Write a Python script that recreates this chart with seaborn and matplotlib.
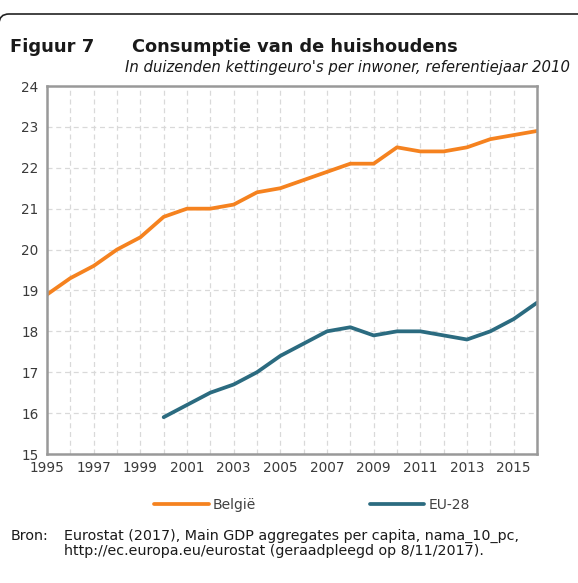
import numpy as np
import matplotlib
matplotlib.use("Agg")
import matplotlib.pyplot as plt
from matplotlib.patches import FancyBboxPatch
from matplotlib.transforms import IdentityTransform
import pandas as pd
import seaborn as sns

# data
years_be = list(range(1995, 2017))
belgie = [18.9, 19.3, 19.6, 20.0, 20.3, 20.8, 21.0, 21.0, 21.1, 21.4, 21.5,
          21.7, 21.9, 22.1, 22.1, 22.5, 22.4, 22.4, 22.5, 22.7, 22.8, 22.9]
years_eu = list(range(2000, 2017))
eu28 = [15.9, 16.2, 16.5, 16.7, 17.0, 17.4, 17.7, 18.0, 18.1, 17.9, 18.0,
        18.0, 17.9, 17.8, 18.0, 18.3, 18.7]
y_ticks = list(range(15, 25))

ORANGE = "#F5821F"
TEAL = "#2B6B80"
GREY = "#999999"

sns.set_style("white")
plt.rcParams['font.family'] = ['DejaVu Sans']

df = pd.concat([
    pd.DataFrame({'jaar': years_be, 'waarde': belgie, 'reeks': 'België'}),
    pd.DataFrame({'jaar': years_eu, 'waarde': eu28, 'reeks': 'EU-28'}),
])

W, H = 578, 583
fig = plt.figure(figsize=(W / 100, H / 100), dpi=100)
ax = fig.add_axes([47 / W, 1 - 454 / H, 490 / W, 368 / H])

sns.lineplot(data=df, x='jaar', y='waarde', hue='reeks',
             palette={'België': ORANGE, 'EU-28': TEAL},
             linewidth=2.7, ax=ax, legend=False)

ax.set_xlim(1995, 2016)
ax.set_ylim(15, 24)
ax.set_xticks(range(1995, 2017))
ax.set_xticklabels([str(y) if (y - 1995) % 2 == 0 else '' for y in range(1995, 2017)])
ax.set_yticks(y_ticks)
ax.set_xlabel('')
ax.set_ylabel('')
ax.grid(True, color='#D9D9D9', linestyle=(0, (4, 3)), linewidth=0.9)
for s in ax.spines.values():
    s.set_color(GREY)
    s.set_linewidth(1.8)
ax.tick_params(axis='both', colors=GREY, length=4, width=1.5, labelcolor='#3a3a3a',
               labelsize=9.8, direction='out')
ax.tick_params(axis='x', pad=1)
ax.tick_params(axis='y', pad=2)

# legend
handles = [plt.Line2D([], [], color=ORANGE, lw=2.7), plt.Line2D([], [], color=TEAL, lw=2.7)]
fig.legend(handles, ['België', 'EU-28'], loc='center', bbox_to_anchor=(312 / W, 1 - 505 / H),
           ncol=2, frameon=False, fontsize=10, handlelength=3.9, handletextpad=0.3,
           columnspacing=8.2, labelcolor='#404040')

# titles
fig.text(10 / W, 1 - 52 / H, 'Figuur 7', fontsize=12.9, fontweight='bold', color='#1a1a1a')
fig.text(132 / W, 1 - 52 / H, 'Consumptie van de huishoudens', fontsize=12.8,
         fontweight='bold', color='#1a1a1a')
fig.text(570 / W, 1 - 72 / H,
         "In duizenden kettingeuro's per inwoner, referentiejaar 2010",
         fontsize=10.7, style='italic', ha='right', color='#1a1a1a')

# source
fig.text(11 / W, 1 - 529 / H, 'Bron:', fontsize=10.3, color='#1a1a1a', va='top')
fig.text(64 / W, 1 - 529 / H,
         'Eurostat (2017), Main GDP aggregates per capita, nama_10_pc,\n'
         'http://ec.europa.eu/eurostat (geraadpleegd op 8/11/2017).',
         fontsize=10.3, color='#1a1a1a', linespacing=1.08, va='top')

# frame border (rounded top-left corner)
box = FancyBboxPatch((-1, -50), W + 50, H - 14 + 50,
                     boxstyle='round,pad=0,rounding_size=10',
                     transform=IdentityTransform(), fill=False, edgecolor='#222222',
                     linewidth=1.2, clip_on=False)
fig.add_artist(box)

fig.savefig('out.png', dpi=100)
